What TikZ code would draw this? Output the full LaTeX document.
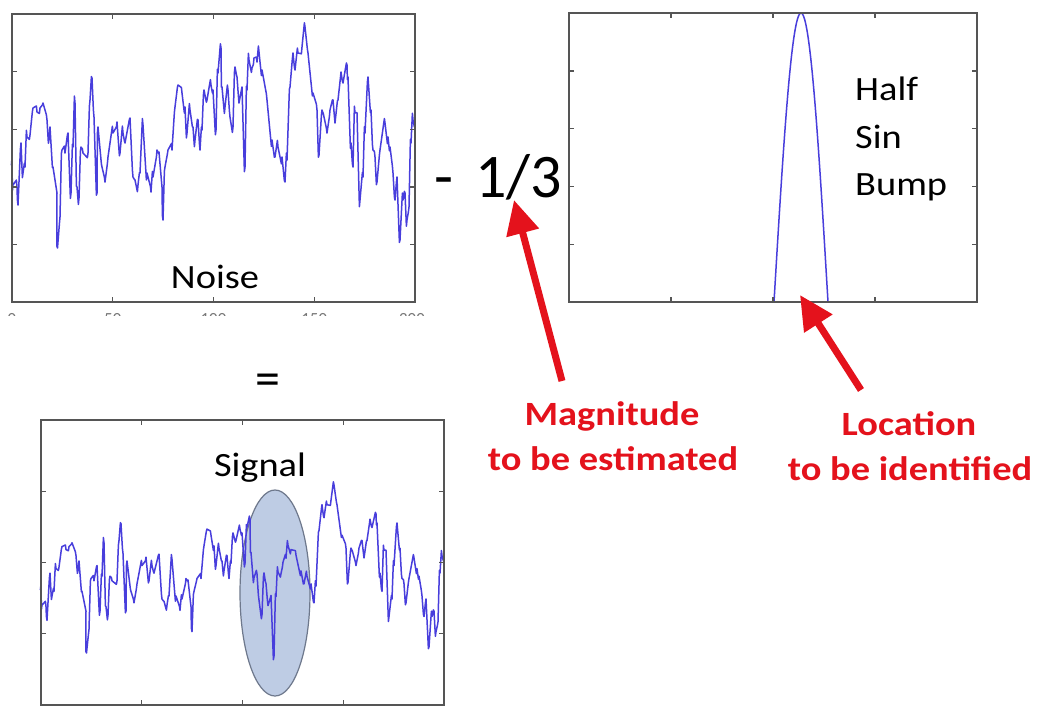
\documentclass[tikz,border=0pt]{standalone}
\usepackage{fontspec}
\setmainfont{Carlito}
\usetikzlibrary{arrows.meta}
\definecolor{axisgray}{RGB}{85,85,85}
\definecolor{curveblue}{RGB}{72,62,220}
\definecolor{arrowred}{RGB}{228,18,28}
\definecolor{ellfill}{RGB}{190,204,228}
\definecolor{ellline}{RGB}{110,120,140}
\newcommand{\hs}[1]{\scalebox{1.13}[1]{#1}}
\def\noisepts{12/158,13/185,17/187,18/205,21/143,23/173,25/167,27/137,30/135,33/108,37/112,40/108,43/103,47/120,49/140,50/127,53/167,57/193,57.5/248,60/217,62/150,65/153,68/133,71/193,73/147,75/103,77/187,79/198,81/147,83/153,88/153,90/100,92/78,94/117,97/193,98/127,102/167,105/182,108/157,113/133,117/122,120/153,123/133,125/143,130/118,133/177,135/180,138/185,140/173,143/125,147/173,151/192,153/177,157/150,159/152,162/187,163/220,165/167,168/150,172/150,175/107,178/85,182/93,185/107,187/133,190/110,193/127,195/140,198/120,200/150,202/130,204/90,207/100,211/85,213/90,216/130,218/73,221/48,222/87,225/107,228/90,230/117,233/127,235/67,237/77,239/103,242/87,245/167,247/90,249/60,252/68,254/58,257/62,259/52,262/70,267/100,272/140,275/157,278/147,282/157,285/182,287/160,290/87,293/53,295/70,298/53,302/47,305/27,308/53,313/93,317/110,319/155,322/110,324/117,327/133,330/110,333/100,335/123,338/100,341/72,343/83,347/65,348/77,351/143,353/167,355/113,357/113,360/200,363/177,365/133,368/77,371/110,373/150,375/157,377/182,380/150,385/123,388/137,390/147,393/173,395/200,397/177,400/240,403/200,405/193,407/220,409/207,411/143,413/120,415/127}
\begin{document}
\begin{tikzpicture}[x=1pt,y=-1pt,
  plotbox/.style={draw=axisgray, line width=1.8pt},
  tickmark/.style={draw=axisgray, line width=1.4pt},
  curve/.style={draw=curveblue, line width=1.5pt, line join=round},
  lbl/.style={inner sep=0pt, font=\fontsize{34}{40}\selectfont},
  redlbl/.style={inner sep=0pt, text=arrowred, font=\fontsize{34}{40}\selectfont\bfseries},
  redarrow/.style={draw=arrowred, line width=7pt, -{Triangle[length=34pt,width=32pt]}}]
\useasboundingbox (0,0) rectangle (1050,718);
\fill[white] (0,0) rectangle (1050,718);

% ---------- Noise plot ----------
\draw[curve] (12,158) \foreach \x/\y in \noisepts { -- ({\x-0.6},{\y+7*sin(\x*37.3)}) -- (\x,\y) };
\draw[plotbox] (12,14) rectangle (415,302);
\foreach \y in {71.6,129.2,186.8,244.4} {
  \draw[tickmark] (12,\y) -- ++(5,0);
  \draw[tickmark] (415,\y) -- ++(-5,0);
}
\foreach \x in {112.75,213.5,314.25} {
  \draw[tickmark] (\x,14) -- ++(0,5);
  \draw[tickmark] (\x,302) -- ++(0,-5);
}
\begin{scope}
  \clip (0,312.5) rectangle (440,315.5);
  \foreach \x/\t in {12/0,112.75/50,213.5/100,314.25/150,412/200}
    \node[font=\fontsize{17}{20}\selectfont, text=axisgray!80, anchor=north, inner sep=0pt] (tl\t) at (\x,313) {\t};
\end{scope}
\node[lbl, anchor=base] (noiselbl) at (215,288) {\hs{Noise}};

% ---------- minus 1/3 ----------
\node[inner sep=0pt, anchor=base west, font=\fontsize{62}{70}\selectfont] (third) at (434,197) {-\hspace{22pt}1/3};

% ---------- Half sin bump plot ----------
\draw[curve, domain=774:828, samples=80] plot (\x, {302-289*sin(3.3333*(\x-774))});
\draw[plotbox] (569,13) rectangle (977,302);
\foreach \y in {70.8,128.6,186.4,244.2} {
  \draw[tickmark] (569,\y) -- ++(5,0);
  \draw[tickmark] (977,\y) -- ++(-5,0);
}
\foreach \x in {671,773,875} {
  \draw[tickmark] (\x,13) -- ++(0,5);
  \draw[tickmark] (\x,302) -- ++(0,-5);
}
\node[lbl, anchor=base west] (half) at (855,100) {\hs{Half}};
\node[lbl, anchor=base west] (sin) at (855,148) {\hs{Sin}};
\node[lbl, anchor=base west] (bump) at (855,195) {\hs{Bump}};

% ---------- equals ----------
\node[inner sep=0pt, anchor=base, font=\fontsize{50}{60}\selectfont] (eq) at (268,395) {=};

% ---------- Signal plot ----------
\draw[fill=ellfill, draw=ellline, line width=1.2pt] (275,593) ellipse [x radius=35, y radius=103];
\draw[curve] (41,584.6) \foreach \x/\y in \noisepts {
  -- ({\x+29-0.6},{485+(\y+7*sin(\x*37.3)-27)*0.76 + 65*(\x>=216)*(\x<=271)*sin(3.2727*(\x-216))})
  -- ({\x+29},{485+(\y-27)*0.76 + 65*(\x>=216)*(\x<=271)*sin(3.2727*(\x-216))}) };
\draw[plotbox] (41,420) rectangle (444,705);
\foreach \y in {491.25,562.5,633.75} {
  \draw[tickmark] (41,\y) -- ++(5,0);
  \draw[tickmark] (444,\y) -- ++(-5,0);
}
\foreach \x in {141.75,242.5,343.25} {
  \draw[tickmark] (\x,420) -- ++(0,5);
  \draw[tickmark] (\x,705) -- ++(0,-5);
}
\node[lbl, anchor=base] (signallbl) at (260,476) {\hs{Signal}};

% ---------- red annotations ----------
\node[redlbl, anchor=base] (mag1) at (612,425) {\hs{Magnitude}};
\node[redlbl, anchor=base] (mag2) at (613,470) {\hs{to be estimated}};
\node[redlbl, anchor=base] (loc1) at (909,435) {\hs{Location}};
\node[redlbl, anchor=base] (loc2) at (910,480) {\hs{to be identified}};
\coordinate (magtail) at (562,381);
\coordinate (magtip) at (514,200);
\coordinate (loctail) at (861,390);
\coordinate (loctip) at (800,295);
\draw[redarrow] (magtail) -- (magtip);
\draw[redarrow] (loctail) -- (loctip);
\end{tikzpicture}
\end{document}
